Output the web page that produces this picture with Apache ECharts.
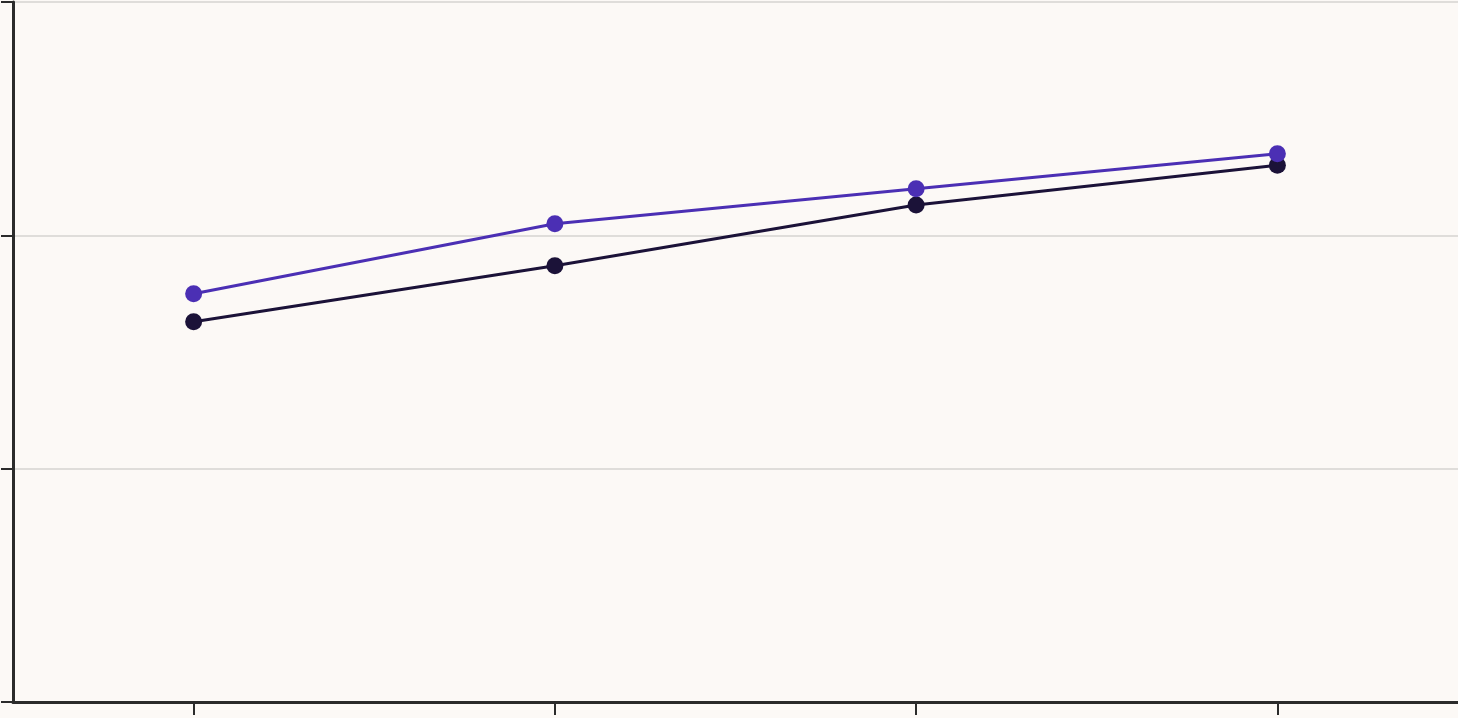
<!DOCTYPE html>
<html>
<head>
<meta charset="utf-8">
<script src="https://cdn.jsdelivr.net/npm/echarts@6/dist/echarts.min.js"></script>
<style>
html,body{margin:0;padding:0;background:#fcf9f6;}
#chart{width:1458px;height:718px;}
</style>
</head>
<body>
<div id="chart"></div>
<script>
var categories = ['A', 'B', 'C', 'D'];
var darkValues = [1.63, 1.87, 2.13, 2.30];
var purpleValues = [1.75, 2.05, 2.20, 2.35];

var myChart = echarts.init(document.getElementById('chart'));
myChart.setOption({
	backgroundColor: '#fcf9f6',
	animation: false,
	grid: { left: 13, right: 0, top: 2, bottom: 16, containLabel: false },
	xAxis: {
		type: 'category',
		data: categories,
		boundaryGap: true,
		axisLine: { lineStyle: { color: '#2b2b2b', width: 3 } },
		axisTick: { show: true, alignWithLabel: true, interval: 0, length: 13, lineStyle: { color: '#2b2b2b', width: 2 } },
		axisLabel: { show: true, interval: 0, color: 'rgba(0,0,0,0)', fontSize: 1 },
		splitLine: { show: false }
	},
	yAxis: {
		type: 'value',
		min: 0,
		max: 3,
		interval: 1,
		axisLine: { show: true, lineStyle: { color: '#2b2b2b', width: 3 } },
		axisTick: { show: true, length: 12, lineStyle: { color: '#2b2b2b', width: 2 } },
		axisLabel: { show: false },
		splitLine: { lineStyle: { color: '#d6d3d0', width: 1.5 } }
	},
	series: [{
		type: 'line',
		data: darkValues,
		symbol: 'circle',
		symbolSize: 17,
		lineStyle: { color: '#1b1238', width: 3 },
		itemStyle: { color: '#1b1238' }
	}, {
		type: 'line',
		data: purpleValues,
		symbol: 'circle',
		symbolSize: 17,
		lineStyle: { color: '#4b2fb4', width: 3 },
		itemStyle: { color: '#4b2fb4' }
	}]
});
</script>
</body>
</html>
